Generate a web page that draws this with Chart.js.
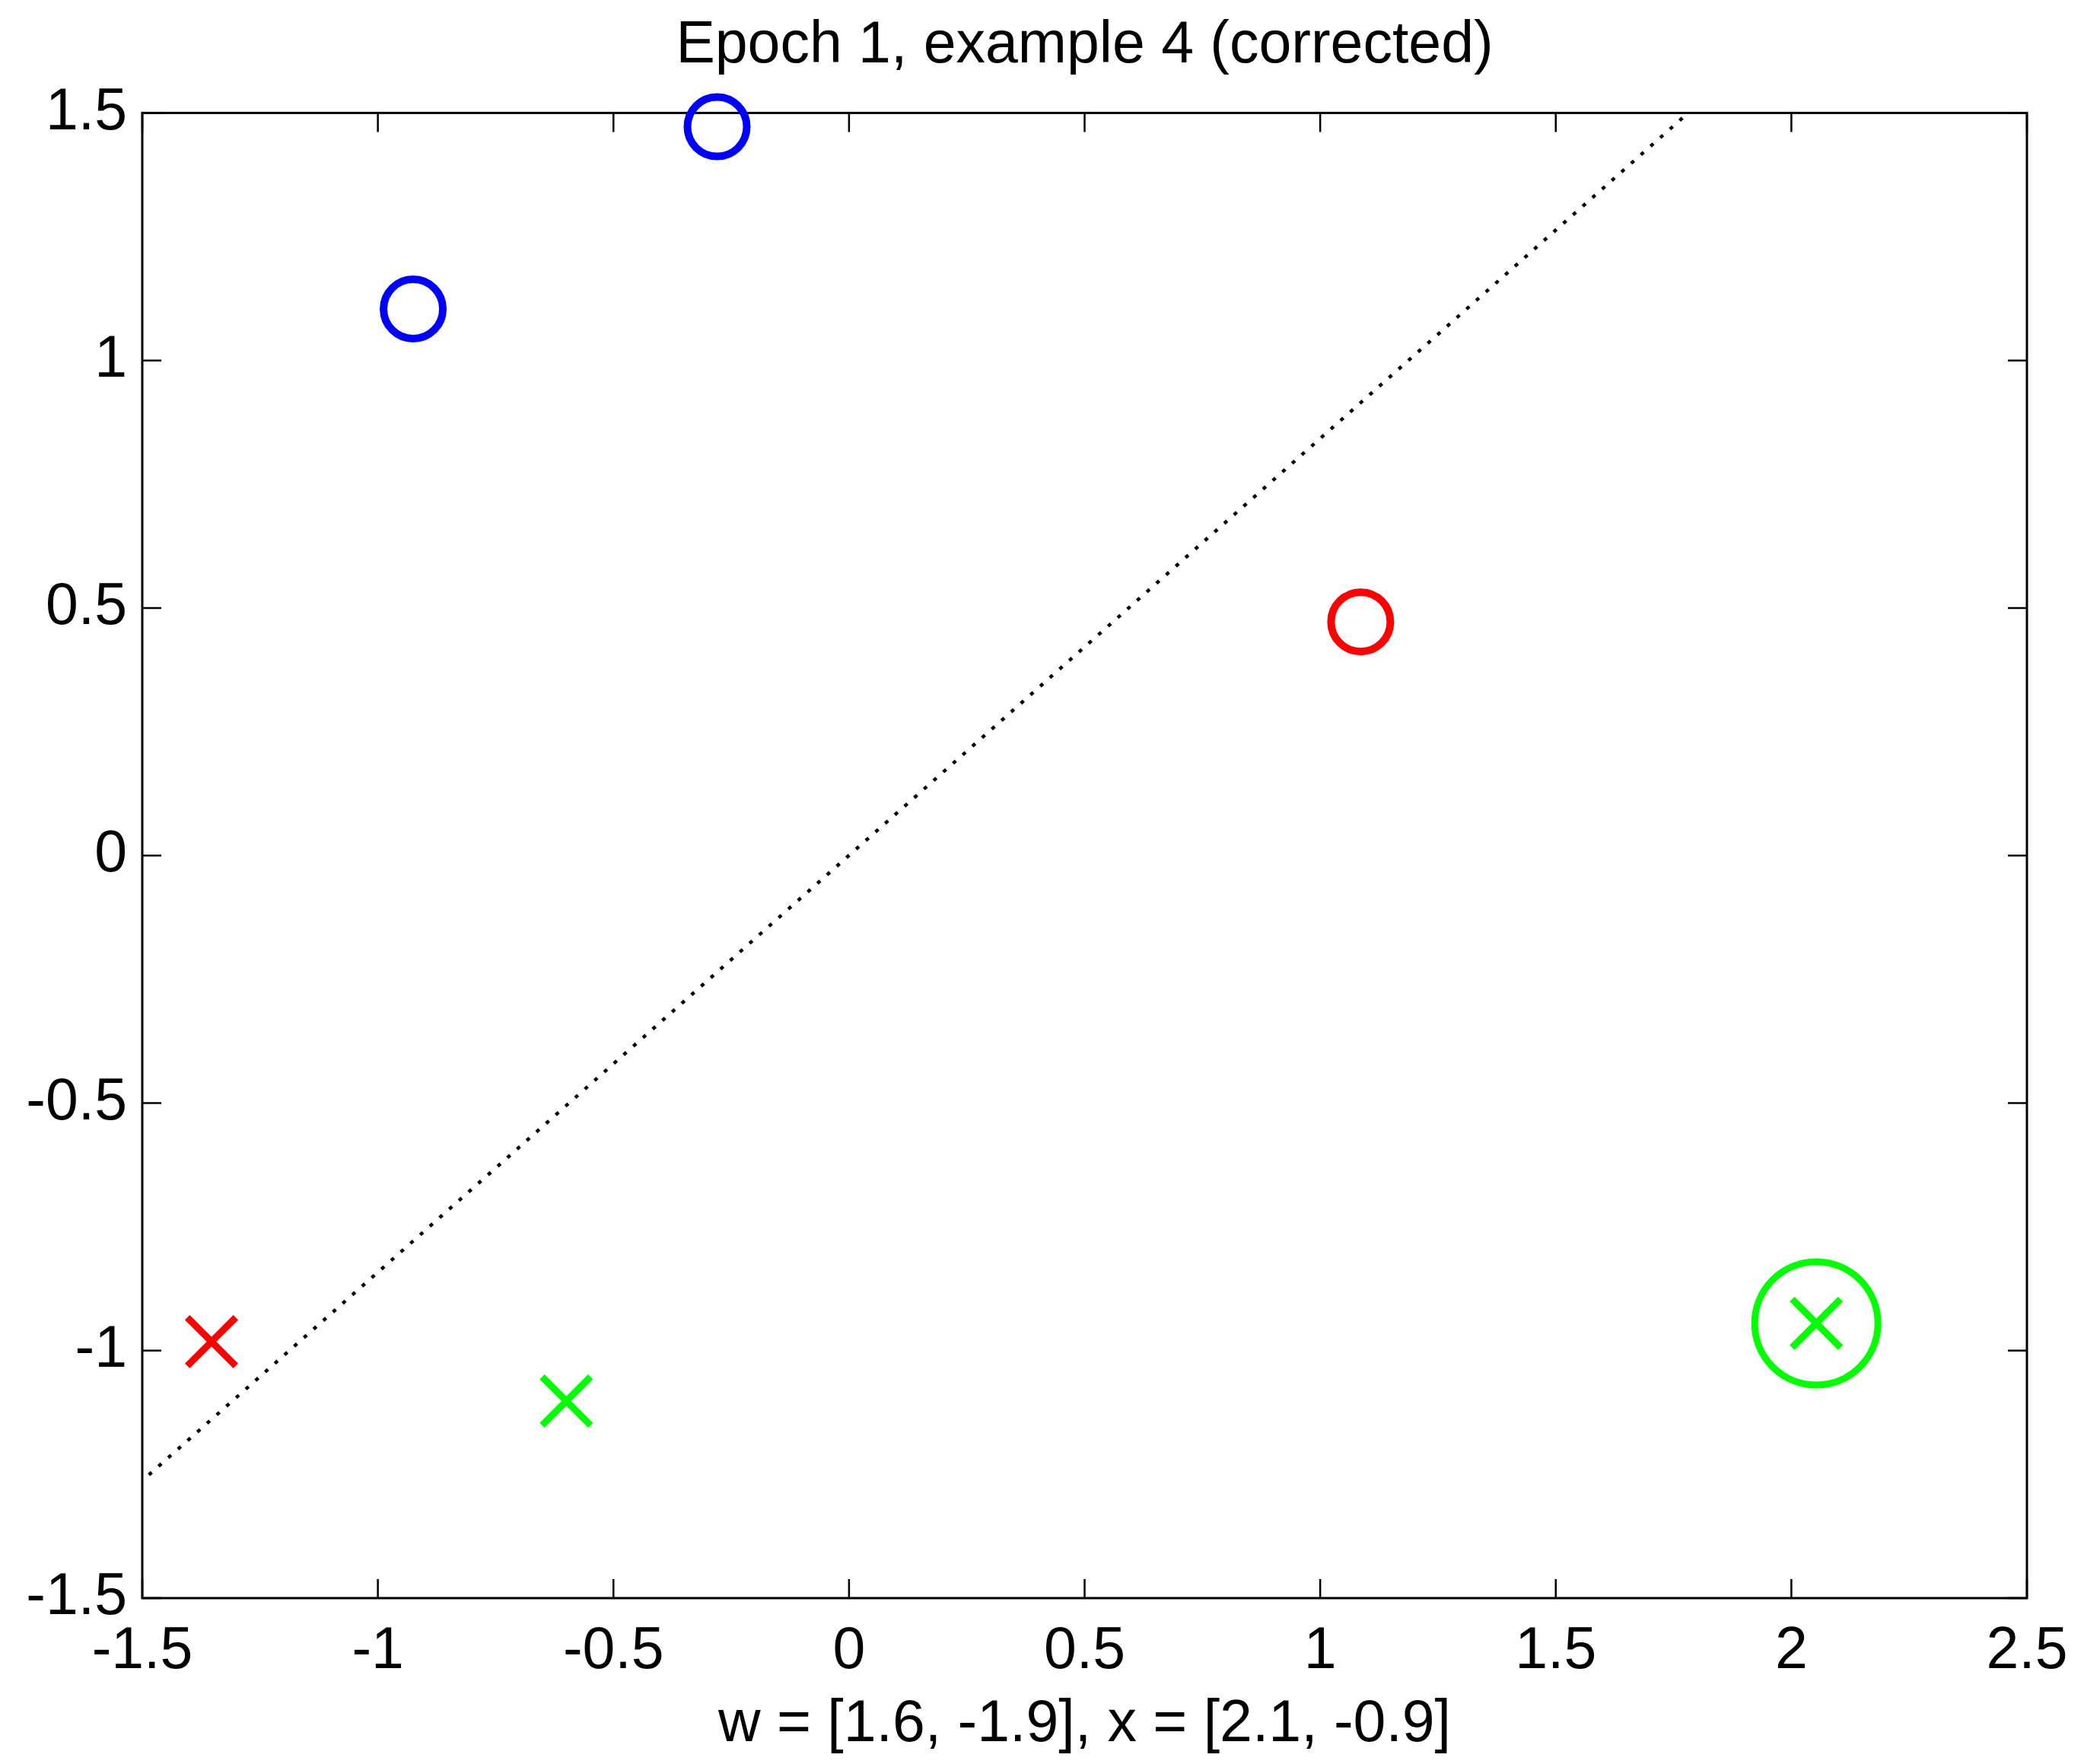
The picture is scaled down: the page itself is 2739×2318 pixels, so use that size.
<!DOCTYPE html>
<html>
<head>
<meta charset="utf-8">
<title>Epoch 1, example 4 (corrected)</title>
<script src="https://cdn.jsdelivr.net/npm/chart.js@4.4.1/dist/chart.umd.min.js"></script>
<style>
  html, body { margin: 0; padding: 0; background: #fff; }
  canvas { display: block; }
</style>
</head>
<body>
<canvas id="perceptronChart" width="2739" height="2318"></canvas>
<script>
const xTicks = [-1.5, -1, -0.5, 0, 0.5, 1, 1.5, 2, 2.5];
const yTicks = [-1.5, -1, -0.5, 0, 0.5, 1, 1.5];

// class o (blue = correctly classified, red = misclassified)
const blueCircleX = [-0.925, -0.28];
const blueCircleY = [1.104, 1.472];
const redCircleX = [1.086];
const redCircleY = [0.472];
// class x
const redCrossX = [-1.353];
const redCrossY = [-0.982];
const greenCrossX = [-0.6, 2.053];
const greenCrossY = [-1.102, -0.945];
// example being corrected this step
const currentX = [2.053];
const currentY = [-0.945];
// decision boundary w . x = 0
const boundaryX = [-1.486, 1.781];
const boundaryY = [-1.251, 1.5];

const titleText = 'Epoch 1, example 4 (corrected)';
const xLabel = 'w = [1.6, -1.9], x = [2.1, -0.9]';

const fontFamily = '"Liberation Sans", Arial, Helvetica, sans-serif';

function toPoints(xs, ys) {
    return xs.map((x, i) => ({ x: x, y: ys[i] }));
}

// MATLAB style box with inward ticks on all four sides
const frameTicks = {
    id: 'frameTicks',
    beforeDatasetsDraw(chart) {
        const ctx = chart.ctx;
        const a = chart.chartArea;
        const sx = chart.scales.x;
        const sy = chart.scales.y;
        const len = 25;
        ctx.save();
        ctx.strokeStyle = '#000';
        ctx.lineWidth = 2.5;
        ctx.beginPath();
        xTicks.forEach(v => {
            const px = sx.getPixelForValue(v);
            ctx.moveTo(px, a.bottom);
            ctx.lineTo(px, a.bottom - len);
            ctx.moveTo(px, a.top);
            ctx.lineTo(px, a.top + len);
        });
        yTicks.forEach(v => {
            const py = sy.getPixelForValue(v);
            ctx.moveTo(a.left, py);
            ctx.lineTo(a.left + len, py);
            ctx.moveTo(a.right, py);
            ctx.lineTo(a.right - len, py);
        });
        ctx.stroke();
        ctx.lineWidth = 3;
        ctx.strokeRect(a.left, a.top, a.right - a.left, a.bottom - a.top);
        ctx.restore();
    }
};

const ctx = document.getElementById('perceptronChart').getContext('2d');

new Chart(ctx, {
    type: 'scatter',
    data: {
        datasets: [
            {
                label: 'boundary',
                data: toPoints(boundaryX, boundaryY),
                showLine: true,
                borderColor: '#000',
                borderWidth: 4.5,
                borderDash: [5, 12],
                pointRadius: 0,
                fill: false
            },
            {
                label: 'o correct',
                data: toPoints(blueCircleX, blueCircleY),
                pointStyle: 'circle',
                radius: 39,
                borderWidth: 10,
                borderColor: '#0000ff',
                backgroundColor: 'rgba(0,0,0,0)'
            },
            {
                label: 'o wrong',
                data: toPoints(redCircleX, redCircleY),
                pointStyle: 'circle',
                radius: 39,
                borderWidth: 10,
                borderColor: '#ff0000',
                backgroundColor: 'rgba(0,0,0,0)'
            },
            {
                label: 'x wrong',
                data: toPoints(redCrossX, redCrossY),
                pointStyle: 'crossRot',
                radius: 45,
                borderWidth: 9,
                borderColor: '#ff0000'
            },
            {
                label: 'x correct',
                data: toPoints(greenCrossX, greenCrossY),
                pointStyle: 'crossRot',
                radius: 45,
                borderWidth: 9,
                borderColor: '#00ff00'
            },
            {
                label: 'current',
                data: toPoints(currentX, currentY),
                pointStyle: 'circle',
                radius: 81,
                borderWidth: 9,
                borderColor: '#00ff00',
                backgroundColor: 'rgba(0,0,0,0)'
            }
        ]
    },
    options: {
        responsive: false,
        animation: false,
        events: [],
        clip: false,
        layout: { autoPadding: false, padding: { left: 0, right: 75, top: 0, bottom: 0 } },
        scales: {
            x: {
                type: 'linear',
                min: -1.5,
                max: 2.5,
                afterBuildTicks: s => { s.ticks = xTicks.map(v => ({ value: v })); },
                afterFit: s => { s.height = 218; s.paddingLeft = 0; s.paddingRight = 0; },
                grid: { display: false },
                border: { display: false },
                ticks: {
                    color: '#000',
                    font: { family: fontFamily, size: 77 },
                    padding: 17,
                    maxRotation: 0,
                    autoSkip: false,
                    callback: v => String(v)
                },
                title: {
                    display: true,
                    text: xLabel,
                    color: '#000',
                    font: { family: fontFamily, size: 77 },
                    padding: { top: 0, bottom: 5 }
                }
            },
            y: {
                type: 'linear',
                min: -1.5,
                max: 1.5,
                afterBuildTicks: s => { s.ticks = yTicks.map(v => ({ value: v })); },
                afterFit: s => { s.width = 187; s.paddingTop = 0; s.paddingBottom = 0; },
                grid: { display: false },
                border: { display: false },
                ticks: {
                    color: '#000',
                    font: { family: fontFamily, size: 77 },
                    padding: 12,
                    autoSkip: false,
                    callback: v => String(v)
                }
            }
        },
        plugins: {
            legend: { display: false },
            tooltip: { enabled: false },
            title: {
                display: true,
                text: titleText,
                color: '#000',
                fullSize: false,
                font: { family: fontFamily, size: 77, weight: 'normal' },
                padding: { top: 15, bottom: 41 }
            }
        }
    },
    plugins: [frameTicks]
});
</script>
</body>
</html>
